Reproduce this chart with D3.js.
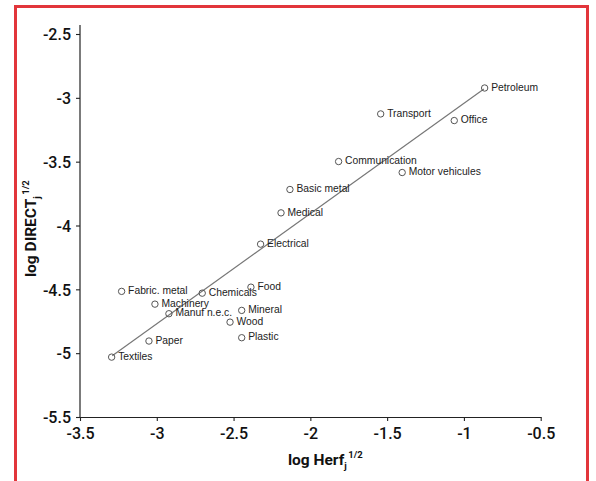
<!DOCTYPE html>
<html>
<head>
<meta charset="utf-8">
<script src="https://cdn.jsdelivr.net/npm/d3@7/dist/d3.min.js"></script>
<style>
  html, body { margin: 0; padding: 0; background: #fff; }
  svg { display: block; }
  .tick text { font-family: Roboto, "Liberation Sans", sans-serif; font-weight: 500; font-size: 16px; fill: #111; }
  .lbl { font-family: "Liberation Sans", Arial, sans-serif; font-size: 10.3px; fill: #222; }
  .ttl { font-family: Roboto, "Liberation Sans", sans-serif; font-weight: 700; font-size: 15.5px; fill: #111; }
</style>
</head>
<body>
<svg id="chart" width="596" height="481"></svg>
<script>
// Sectors and their concentration / direct-exposure coordinates
const sectors = ["Petroleum", "Transport", "Office", "Communication", "Motor vehicules",
  "Basic metal", "Medical", "Electrical", "Fabric. metal", "Chemicals", "Food",
  "Machinery", "Manuf n.e.c.", "Mineral", "Wood", "Plastic", "Paper", "Textiles"];
const logHerf = [-0.865, -1.542, -1.063, -1.816, -1.402,
  -2.133, -2.191, -2.324, -3.229, -2.704, -2.387,
  -3.012, -2.921, -2.447, -2.523, -2.447, -3.051, -3.294];
const logDirect = [-2.923, -3.126, -3.178, -3.499, -3.585,
  -3.718, -3.901, -4.146, -4.516, -4.530, -4.483,
  -4.616, -4.691, -4.665, -4.757, -4.879, -4.905, -5.031];

// Fitted regression line end points
const fitX = [-3.29, -0.87];
const fitY = [-5.02, -2.93];

// Axis ticks
const xTicks = [-3.5, -3, -2.5, -2, -1.5, -1, -0.5];
const yTicks = [-2.5, -3, -3.5, -4, -4.5, -5, -5.5];

const svg = d3.select("#chart");

// Red frame, open at the bottom
svg.append("path")
  .attr("d", "M15.5,481V6.5H587.5V481")
  .attr("fill", "none")
  .attr("stroke", "#e2353b")
  .attr("stroke-width", 3);

const x = d3.scaleLinear().domain([-3.5, -0.5]).range([80, 540.7]);
const y = d3.scaleLinear().domain([-5.5, -2.5]).range([417, 34]);
const yTop = -2.43;

const fmt = d => String(d).replace("-", "-");

const xAxis = svg.append("g")
  .attr("transform", "translate(0,417)")
  .call(d3.axisBottom(x).tickValues(xTicks).tickSizeInner(4).tickSizeOuter(0).tickPadding(7).tickFormat(fmt));
const yAxis = svg.append("g")
  .attr("transform", "translate(80,0)")
  .call(d3.axisLeft(y).tickValues(yTicks).tickSizeInner(4).tickSizeOuter(0).tickPadding(5).tickFormat(fmt));
yAxis.select(".domain").attr("d", `M0,${y(-5.5)}V${y(yTop)}`);
[xAxis, yAxis].forEach(g => {
  g.select(".domain").attr("stroke", "#222").attr("stroke-width", 1.2);
  g.selectAll(".tick line").attr("stroke", "#222").attr("stroke-width", 1.1);
});
yAxis.selectAll(".tick text").attr("dy", "0.36em");

// Regression line
svg.append("line")
  .attr("x1", x(fitX[0])).attr("y1", y(fitY[0]))
  .attr("x2", x(fitX[1])).attr("y2", y(fitY[1]))
  .attr("stroke", "#777").attr("stroke-width", 1.2);

// Points and labels
const pts = sectors.map((s, i) => ({ s, hx: logHerf[i], dy: logDirect[i] }));
const g = svg.append("g");
g.selectAll("circle").data(pts).join("circle")
  .attr("cx", d => x(d.hx)).attr("cy", d => y(d.dy)).attr("r", 3.2)
  .attr("fill", "none").attr("stroke", "#555").attr("stroke-width", 1);
g.selectAll("text").data(pts).join("text")
  .attr("class", "lbl")
  .attr("x", d => x(d.hx) + 6.5).attr("y", d => y(d.dy) + 2.7)
  .text(d => d.s);

// Axis titles
const xt = svg.append("text").attr("class", "ttl").attr("x", 288).attr("y", 465);
xt.append("tspan").text("log Herf");
xt.append("tspan").attr("dx", 0).attr("dy", 3.5).attr("font-size", 9.5).text("j");
xt.append("tspan").attr("dx", 1.5).attr("dy", -10.5).attr("font-size", 9.5).text("1/2");

const yt = svg.append("text").attr("class", "ttl")
  .attr("transform", "translate(36,277) rotate(-90)");
yt.append("tspan").text("log DIRECT");
yt.append("tspan").attr("dx", 0).attr("dy", 3.5).attr("font-size", 9.5).text("j");
yt.append("tspan").attr("dx", 1.5).attr("dy", -10.5).attr("font-size", 9.5).text("1/2");
</script>
</body>
</html>
